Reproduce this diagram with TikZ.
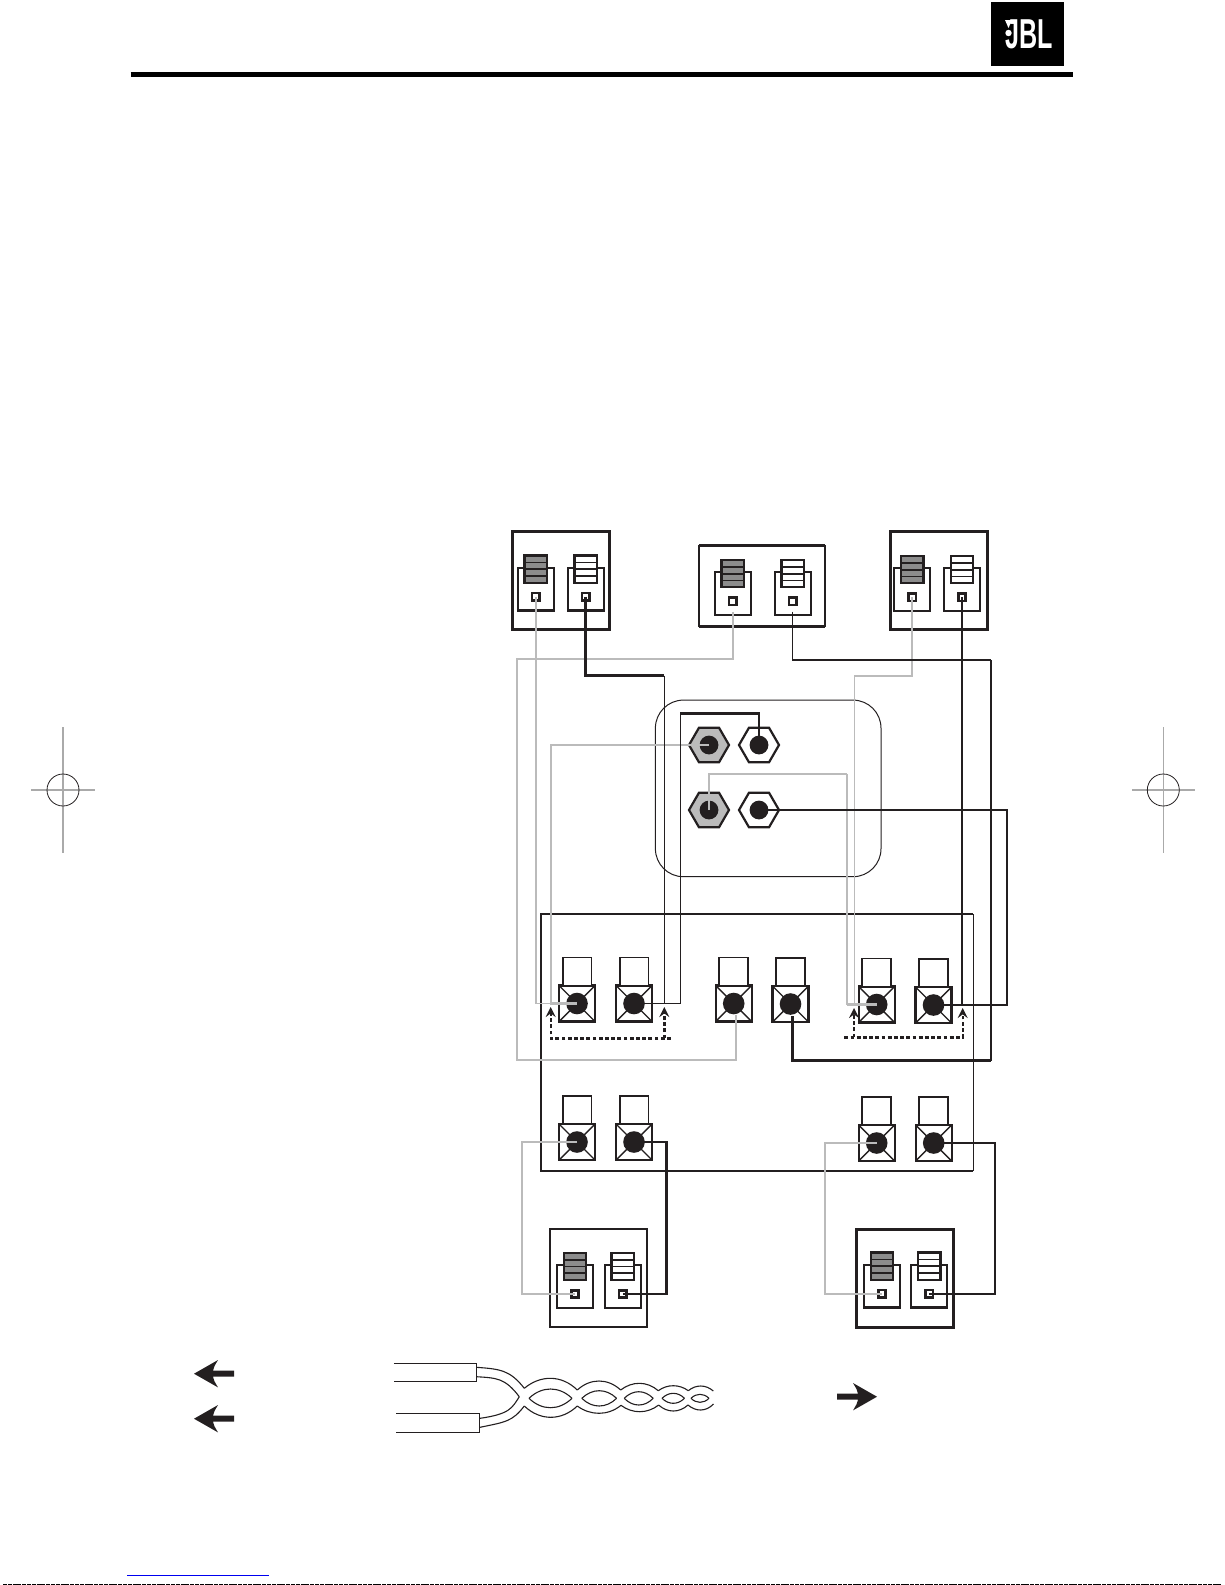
\documentclass[tikz,border=0pt]{standalone}
\usepackage{tikz}
\usepackage{fontspec}
\setmainfont{Liberation Sans}
\usetikzlibrary{arrows,shapes,positioning}
\usepackage{xcolor}
\definecolor{inkblack}{RGB}{35,31,32}
\definecolor{wiregrey}{RGB}{187,187,187}
\definecolor{stackgrey}{RGB}{140,140,140}
\definecolor{reggrey}{RGB}{170,170,170}
\definecolor{linkblue}{RGB}{0,0,240}
\tikzstyle{speaker} = [rectangle, draw=inkblack, line width=1.4bp, inner sep=0, outer sep=0]
\tikzstyle{jackbox} = [rectangle, draw=inkblack, line width=1.1bp, fill=white, inner sep=0, outer sep=0, minimum width=18bp, minimum height=21.4bp]
\tikzstyle{stack} = [rectangle, draw=inkblack, line width=1.1bp, inner sep=0, outer sep=0, minimum width=11.2bp, minimum height=13.6bp]
\tikzstyle{post} = [rectangle, draw=inkblack, line width=1.3bp, fill=white, inner sep=0, outer sep=0, minimum size=3.6bp]
\tikzstyle{jacksq} = [rectangle, draw=inkblack, line width=1.1bp, fill=white, inner sep=0, outer sep=0, minimum size=18bp]
\tikzstyle{jacktop} = [rectangle, draw=inkblack, line width=.9bp, fill=white, inner sep=0, outer sep=0, minimum width=14.4bp, minimum height=14bp]
\tikzstyle{jackdot} = [circle, fill=inkblack, inner sep=0, outer sep=0, minimum size=10.8bp]
\tikzstyle{jackx} = [draw=inkblack, line width=.7bp]
\tikzstyle{hexnut} = [regular polygon, regular polygon sides=6, draw=inkblack, line width=1.1bp, inner sep=0, outer sep=0, minimum size=20bp]
\tikzstyle{greywire} = [wiregrey, line width=.85bp]
\tikzstyle{greythick} = [wiregrey, line width=1.2bp]
\tikzstyle{blackwire} = [inkblack, line width=1bp]
\tikzstyle{blackthin} = [inkblack, line width=.6bp]
\tikzstyle{blackthick} = [inkblack, line width=1.3bp]
\tikzstyle{dashwire} = [inkblack, line width=1.2bp, dash pattern=on 1.9bp off 1.2bp, ->, >=stealth]
\tikzstyle{cablewire} = [inkblack, line width=.55bp]
\tikzstyle{regline} = [reggrey, line width=.6bp]

% speaker terminal: the node #1 is the small square
\newcommand{\spkjack}[4]{
  \node[jackbox, yshift=3.8bp] (#1-box) at (#2,#3) {};
  \node[stack, fill=#4, yshift=13.8bp] (#1-st) at (#2,#3) {};
  \draw[inkblack, line width=.8bp] ([yshift=3.3bp]#1-st.west) -- ([yshift=3.3bp]#1-st.east);
  \draw[inkblack, line width=.8bp] (#1-st.west) -- (#1-st.east);
  \draw[inkblack, line width=.8bp] ([yshift=-3.3bp]#1-st.west) -- ([yshift=-3.3bp]#1-st.east);
  \node[post] (#1) at (#2,#3) {};
}
% amplifier terminal
\newcommand{\ampjack}[3]{
  \node[jacksq] (#1) at (#2,#3) {};
  \node[jacktop, above=0pt of #1] (#1-top) {};
  \draw[jackx] (#1.north west) -- (#1.south east) (#1.north east) -- (#1.south west);
  \node[jackdot] (#1-dot) at (#1.center) {};
}
% one bulge of the twisted cable
\newcommand{\cablehump}[5]{
  \draw[cablewire] (#1,#2) .. controls ({#1+.3*(#3-#1)},{#5+(#5-#2)/3}) and ({#3-.3*(#3-#1)},{#5+(#5-#4)/3}) .. (#3,#4);
}
\newcommand{\legarrow}[3]{
  \fill[inkblack, shift={(#1,#2)}, xscale=#3] (0,0) -- (24,-13.7) .. controls (20,-7) .. (19,-3) -- (40,-3) -- (40,3) -- (19,3) .. controls (20,7) .. (24,13.7) -- cycle;
}

\begin{document}
\begin{tikzpicture}[x=.5bp, y=-.5bp]
\useasboundingbox (0,0) rectangle (1225,1585);

% Header
\node[rectangle, fill=black, inner sep=0, minimum width=36.4bp, minimum height=31.8bp] (logo) at (1027.3,34) {};
\node[text=white, inner sep=0, font=\bfseries] (logotext) at (1029,34.5) {\scalebox{1.26}[2.1]{JBL}};
\fill[white] (1005,20) -- (1012,20) -- (1008.5,28) -- cycle;
\fill[white] (1008.5,33) circle (1.6bp);
\draw[black, line width=2.5bp] (130.5,74.2) -- (1073,74.2);

% Crop marks
\draw[regline] (63,727) -- (63,852.5);
\draw[regline, line width=.9bp] (31,790) -- (95,790);
\draw[inkblack, line width=.4bp] (63,790) circle (8bp);
\draw[regline] (1163.3,727) -- (1163.3,852.5);
\draw[regline, line width=.9bp] (1132,790) -- (1195,790);
\draw[inkblack, line width=.4bp] (1163.3,790) circle (8bp);

% Speakers, top
\node[speaker, minimum width=48.6bp, minimum height=49bp] (spk-tl) at (560.8,580.3) {};
\node[speaker, line width=.8bp, minimum width=63.2bp, minimum height=40.4bp] (spk-tc) at (762,585.7) {};
\draw[inkblack, line width=1.6bp] (spk-tc.north west) -- (spk-tc.north east);
\draw[inkblack, line width=1.6bp] (spk-tc.south west) -- (spk-tc.south east);
\node[speaker, minimum width=48.6bp, minimum height=49bp] (spk-tr) at (939,580.3) {};
\spkjack{tl-red}{535.7}{596.7}{stackgrey}
\spkjack{tl-blk}{585.7}{596.7}{white}
\spkjack{tc-red}{732.7}{601.3}{stackgrey}
\spkjack{tc-blk}{792.7}{601.3}{white}
\spkjack{tr-red}{912.3}{597.3}{stackgrey}
\spkjack{tr-blk}{962}{597.3}{white}

% Speakers, bottom
\node[speaker, line width=1.15bp, minimum width=48.6bp, minimum height=49bp] (spk-bl) at (598.3,1278.2) {};
\node[speaker, minimum width=48.6bp, minimum height=49bp] (spk-br) at (904.8,1278.2) {};
\spkjack{bl-red}{575}{1294}{stackgrey}
\spkjack{bl-blk}{622.7}{1294}{white}
\spkjack{br-red}{882}{1293.7}{stackgrey}
\spkjack{br-blk}{929.3}{1293.7}{white}

% Source panel
\node[rectangle, rounded corners=14bp, draw=inkblack, line width=.5bp, inner sep=0, minimum width=112.8bp, minimum height=88.3bp] (panel) at (768.2,788.4) {};
\node[hexnut, fill=wiregrey] (hx1) at (709,745) {};
\node[hexnut, fill=white] (hx2) at (759,745) {};
\node[hexnut, fill=wiregrey] (hx3) at (709,810) {};
\node[hexnut, fill=white] (hx4) at (759,810) {};
\node[jackdot, minimum size=9.4bp] (hx1-dot) at (hx1.center) {};
\node[jackdot, minimum size=9.4bp] (hx2-dot) at (hx2.center) {};
\node[jackdot, minimum size=9.4bp] (hx3-dot) at (hx3.center) {};
\node[jackdot, minimum size=9.4bp] (hx4-dot) at (hx4.center) {};

% Amplifier frame
\node[inner sep=0, outer sep=0, minimum width=216.2bp, minimum height=128.5bp] (amp) at (757.2,1042.5) {};
\draw[inkblack, line width=1.2bp] (amp.north east) -- (amp.north west) -- (amp.south west) -- (amp.south east);
\draw[inkblack, line width=.5bp] (amp.north east) -- (amp.south east);

% Amplifier terminals
\ampjack{aj1}{577}{1003.5}
\ampjack{aj2}{634}{1003.5}
\ampjack{aj3}{733.7}{1003.5}
\ampjack{aj4}{790.5}{1004}
\ampjack{aj5}{876.7}{1004.5}
\ampjack{aj6}{933.5}{1005}
\ampjack{aj7}{577}{1142}
\ampjack{aj8}{634}{1142}
\ampjack{aj9}{876.7}{1143}
\ampjack{aj10}{933.7}{1143}

% Bend points
\coordinate (c1) at (516.7,659);
\coordinate (c2) at (516.7,1060);
\coordinate (c2e) at (736,1015);
\coordinate (c3) at (990.5,660);
\coordinate (c4) at (990.5,1060.7);
\coordinate (c4e) at (792.7,1016);
\coordinate (l1) at (664.3,675.7);
\coordinate (l2) at (680.3,713.3);
\coordinate (g1) at (550.7,1003.5);
\coordinate (g2) at (846.7,774);
\coordinate (g3) at (846.7,1004.5);
\coordinate (r1) at (854.5,675.7);
\coordinate (r2) at (1007,810);
\coordinate (b1) at (522,1294);
\coordinate (b2) at (666.7,1294);
\coordinate (b3) at (825.3,1293.7);
\coordinate (b4) at (994.7,1293.7);

% Wires, grey
\draw[greywire] (tl-red.center) |- (aj1.center);
\draw[greythick, shorten <=5.2bp] (tc-red.center) |- (c1) -- (c2) -| (c2e);
\draw[greywire] (tr-red.center) |- (r1) |- (aj5.center);
\draw[greythick] (hx1.center) -| (g1) -- (aj1.center);
\draw[greythick] (hx3.center) |- (g2);
\draw[greywire] (g2) -- (g3);
\draw[greythick] (g3) -- (aj5.center);
\draw[greythick] (aj7.center) -| (b1) -- (bl-red.center);
\draw[greywire] (aj9.center) -| (b3) -- (br-red.center);

% Wires, black
\draw[blackthick] (tl-blk.center) |- (l1);
\draw[blackthin] (l1) |- (aj2.center);
\draw[blackthin] (aj2.center) -| (l2);
\draw[blackthick] (l2) -| (hx2.center);
\draw[blackthin, shorten <=5.2bp] (tc-blk.center) |- (c3);
\draw[blackwire] (c3) -- (c4);
\draw[blackthick] (c4) -| (c4e);
\draw[blackthick] (tr-blk.center) |- (aj6.center);
\draw[blackwire] (aj6.center) -| (r2) -- (hx4.center);
\draw[blackthick] (aj8.center) -| (b2) -- (bl-blk.center);
\draw[blackwire] (aj10.center) -| (b4) -- (br-blk.center);

% Dashed links
\coordinate (d1) at (670.7,1038.3);
\coordinate (d1a) at (550.7,1007);
\coordinate (d1b) at (664.3,1038.3);
\coordinate (d1c) at (664.3,1007);
\coordinate (d2) at (844.3,1037.3);
\coordinate (d2a) at (962.7,1008);
\coordinate (d2b) at (854,1037.3);
\coordinate (d2c) at (854,1008);
\draw[dashwire] (d1) -| (d1a);
\draw[dashwire] (d1b) -- (d1c);
\draw[dashwire] (d2) -| (d2a);
\draw[dashwire] (d2b) -- (d2c);

% Legend arrows
\legarrow{194}{1373.7}{1}
\legarrow{194}{1418.7}{1}
\legarrow{877}{1396.7}{-1}

% Cable
\draw[inkblack, line width=.6bp] (393.8,1363.3) -| (476.4,1381.3) -- (393.8,1381.3);
\draw[inkblack, line width=.6bp] (396,1413.3) -| (479.6,1432.3) -- (396,1432.3);
\draw[cablewire] (476.4,1367.3) .. controls (500,1369) and (510,1370) .. (524.3,1388.3);
\draw[cablewire] (476.4,1376.7) .. controls (497,1378) and (505,1378) .. (519.3,1396.7);
\draw[cablewire] (519.3,1396.7) .. controls (512,1408) and (510,1414) .. (480,1418.3);
\draw[cablewire] (480,1427.3) .. controls (505,1422) and (512,1422) .. (524.3,1406);
\cablehump{524.3}{1388.3}{577.3}{1390}{1378.3}
\cablehump{577.3}{1390}{620.7}{1390}{1381}
\cablehump{620.7}{1390}{658.3}{1390.7}{1383.3}
\cablehump{658.3}{1390.7}{688.3}{1390.7}{1385.7}
\cablehump{688.3}{1390.7}{713.3}{1391}{1386}
\cablehump{524.3}{1406}{577.3}{1406}{1417.3}
\cablehump{577.3}{1406}{621}{1405.3}{1413.3}
\cablehump{621}{1405.3}{658.6}{1405}{1411.7}
\cablehump{658.6}{1405}{688}{1405}{1411}
\cablehump{688}{1405}{713.5}{1404}{1410}
\cablehump{529}{1398.3}{572}{1398.3}{1389}
\cablehump{529}{1398.3}{572}{1398.3}{1407.7}
\cablehump{581.8}{1398.3}{616.6}{1398.3}{1390.7}
\cablehump{581.8}{1398.3}{616.6}{1398.3}{1406}
\cablehump{624.2}{1398.3}{653.2}{1398.3}{1391.7}
\cablehump{624.2}{1398.3}{653.2}{1398.3}{1405}
\cablehump{662}{1398.3}{684.5}{1398.3}{1393.3}
\cablehump{662}{1398.3}{684.5}{1398.3}{1403.3}
\cablehump{691}{1398.3}{709}{1398.3}{1394.3}
\cablehump{691}{1398.3}{709}{1398.3}{1402.3}

% Page foot
\draw[linkblue, line width=.5bp] (127,1575.3) -- (268.7,1575.3);
\draw[black, line width=.5bp, dash pattern=on 2bp off .4bp] (3,1584.3) -- (1222,1584.3);
\end{tikzpicture}
\end{document}
